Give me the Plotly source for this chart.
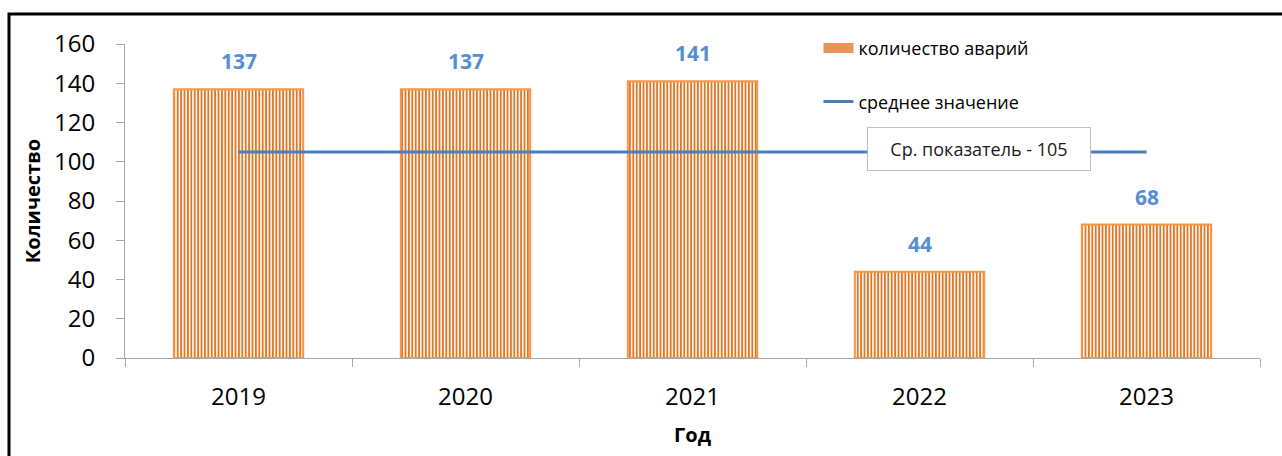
import plotly.graph_objects as go

# Accident counts per year
years = ["2019", "2020", "2021", "2022", "2023"]
accidents = [137, 137, 141, 44, 68]
avg_value = round(sum(accidents) / len(accidents))  # 105
average = [avg_value] * len(years)

y_ticks = [0, 20, 40, 60, 80, 100, 120, 140, 160]

FONT = "Open Sans"
ORANGE = "#F79646"
STRIPE = "#D67A33"
STRIPE_BG = "#FEEEDB"
BLUE_LINE = "#4A7EBB"
LABEL_BLUE = "#558ED5"

fig = go.Figure()

fig.add_trace(go.Bar(
    x=years, y=accidents, name="количество аварий",
    width=0.57, showlegend=False,
    marker=dict(
        color=STRIPE_BG,
        line=dict(color=ORANGE, width=2),
        pattern=dict(shape="|", fgcolor=STRIPE, bgcolor=STRIPE_BG,
                     size=3.4, solidity=0.5, fillmode="replace"),
    ),
))

# legend entry for the bars: a wide orange swatch
fig.add_trace(go.Scatter(
    x=[None], y=[None], name="количество аварий", mode="lines",
    line=dict(color="#E9955A", width=14),
    legendgroup="a",
))

fig.add_trace(go.Scatter(
    x=years, y=average, name="среднее значение", mode="lines",
    line=dict(color=BLUE_LINE, width=3),
    legendgroup="b",
))

annotations = []
for i, v in enumerate(accidents):
    annotations.append(dict(
        x=i, y=v, xref="x", yref="y", text=str(v), showarrow=False,
        yanchor="bottom", yshift=12,
        font=dict(family=FONT, size=21, color=LABEL_BLUE, weight="bold"),
    ))

annotations.append(dict(
    x=0.7524, y=0.667, xref="paper", yref="paper",
    text=f"Ср. показатель - {avg_value}", showarrow=False,
    xanchor="center", yanchor="middle",
    width=220, height=40,
    bgcolor="white", bordercolor="#BFBFBF", borderwidth=1,
    font=dict(family=FONT, size=18, color="#1a1a1a"),
))

fig.update_layout(
    width=1282, height=456,
    margin=dict(l=125, r=22, t=44, b=98),
    paper_bgcolor="white", plot_bgcolor="white",
    font=dict(family=FONT, color="black"),
    showlegend=True,
    legend=dict(
        x=0.611, y=1.045, xanchor="left", yanchor="top",
        bgcolor="rgba(0,0,0,0)",
        font=dict(family=FONT, size=18, color="black"),
        tracegroupgap=27,
        itemwidth=30,
    ),
    annotations=annotations,
    shapes=[dict(
        type="rect", xref="paper", yref="paper",
        x0=-0.1022, y0=-0.6, x1=1.2, y1=1.0955,
        line=dict(color="black", width=3), fillcolor="rgba(0,0,0,0)",
        layer="above",
    )],
)

fig.update_xaxes(
    type="category", range=[-0.5, 4.5],
    showline=True, linecolor="#A6A6A6", linewidth=1,
    ticks="outside", tickson="boundaries", ticklen=8, tickcolor="#A6A6A6",
    tickfont=dict(family=FONT, size=24, color="black"),
    ticklabelstandoff=17,
    showgrid=False, zeroline=False,
    title=dict(text="Год", font=dict(family=FONT, size=20, weight="bold"), standoff=17),
)

fig.update_yaxes(
    range=[0, 160], tickvals=y_ticks,
    showline=True, linecolor="#A6A6A6", linewidth=1,
    ticks="outside", ticklen=8, tickcolor="#A6A6A6",
    tickfont=dict(family=FONT, size=24, color="black"),
    ticklabelstandoff=16,
    showgrid=False, zeroline=False,
    title=dict(text="Количество", font=dict(family=FONT, size=20, weight="bold"), standoff=8),
)

fig.write_html("out.html")
